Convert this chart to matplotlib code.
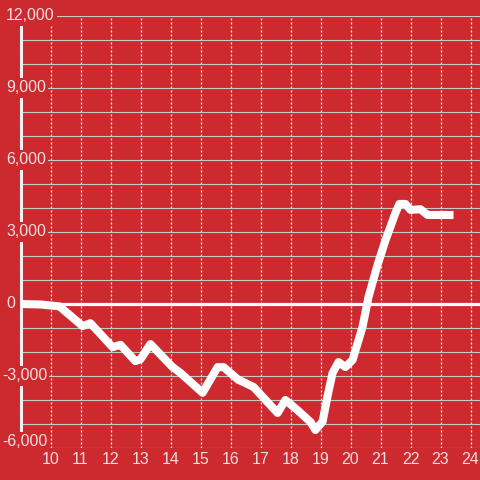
import matplotlib.pyplot as plt
import matplotlib.transforms as mtransforms

# hour of day vs running value
hours = [9.0, 9.67, 10.3, 11.07, 11.33, 12.07, 12.33, 12.83, 13.0, 13.33,
         14.07, 14.33, 15.07, 15.57, 15.77, 16.27, 16.43, 16.77, 17.57, 17.83,
         18.23, 18.67, 18.83, 19.07, 19.23, 19.4, 19.6, 19.83, 20.07, 20.4,
         20.6, 20.9, 21.17, 21.5, 21.63, 21.83, 22.0, 22.33, 22.57, 23.3]
values = [0, -20, -100, -920, -800, -1800, -1700, -2380, -2300, -1670,
          -2630, -2870, -3700, -2630, -2630, -3170, -3250, -3460, -4540, -4000,
          -4420, -4920, -5250, -4900, -3870, -2880, -2420, -2630, -2330, -960,
          290, 1625, 2670, 3800, 4170, 4170, 3920, 3950, 3710, 3710]

xticks = list(range(10, 25))
yticks = [-6000, -3000, 0, 3000, 6000, 9000, 12000]
ytick_labels = ['-6,000', '-3,000', '0', '3,000', '6,000', '9,000', '12,000']

red = '#cd2a30'
label_color = '#f3dede'

plt.rcParams['font.family'] = ['Liberation Sans', 'DejaVu Sans']

fig = plt.figure(figsize=(4.8, 4.8), dpi=100, facecolor=red)
ax = fig.add_axes([20.5 / 480, 32 / 480, 1 - 20.5 / 480, 432 / 480])
ax.set_facecolor(red)

ax.set_xlim(9, 9 + (480 - 20.5) / 30)
ax.set_ylim(-6000, 12000)

for s in ['top', 'right', 'bottom']:
    ax.spines[s].set_visible(False)
ax.spines['left'].set_color('#f2f2f2')
ax.spines['left'].set_linewidth(2.2)
ax.spines['left'].set_zorder(3)

# grid
ax.set_yticks(range(-6000, 12001, 1000))
ax.set_yticklabels([])
ax.set_xticks(xticks)
ax.tick_params(axis='both', length=0)
ax.tick_params(axis='x', colors=label_color, labelsize=11.5, pad=3)
ax.grid(axis='y', color='#c9c9c9', linewidth=0.8, zorder=1)
ax.grid(axis='x', color='#f0f0f0', linewidth=0.9, linestyle=(0, (1.6, 1.6)), zorder=1)
ax.set_axisbelow(True)

ax.axhline(0, color='white', linewidth=2.3, zorder=2)

ax.plot(hours, values, color='white', linewidth=5.8, solid_capstyle='projecting',
        solid_joinstyle='round', zorder=4)

# y labels sit over the axis line with a red backing box
trans = mtransforms.blended_transform_factory(fig.transFigure, ax.transData)
for v, lab in zip(yticks, ytick_labels):
    x0 = 2 / 480 if v < 0 else 6 / 480
    y = v + 250 if v == -6000 else v
    ax.text(x0, y, lab, transform=trans, ha='left', va='center', fontsize=11.5,
            color=label_color, zorder=5, clip_on=False,
            bbox=dict(facecolor=red, edgecolor='none', pad=1.5))

fig.savefig('out.png', dpi=100, facecolor=red)
